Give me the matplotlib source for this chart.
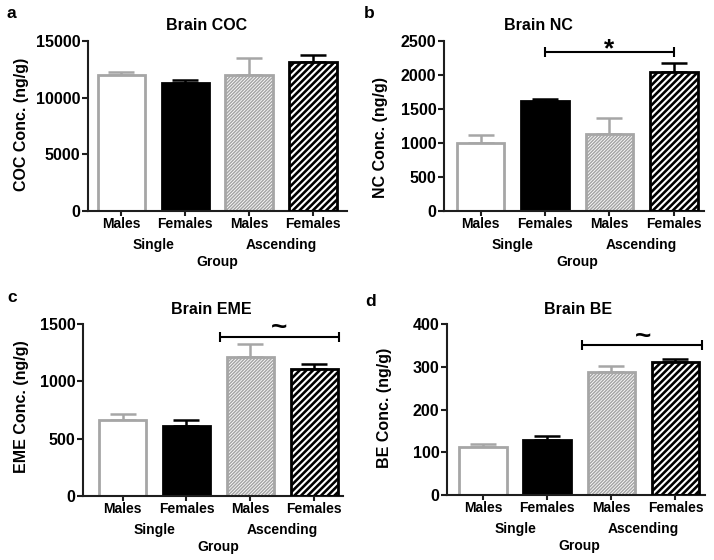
import matplotlib
matplotlib.use('Agg')
import matplotlib.pyplot as plt
import numpy as np

plt.rcParams['font.family'] = ['Liberation Sans', 'DejaVu Sans']
plt.rcParams['font.weight'] = 'bold'

# data (mean, upper SEM)
sexes = ['Males', 'Females', 'Males', 'Females']
groups = ['Single', 'Ascending']

coc_mean = [12000, 11270, 12000, 13120]
coc_sem = [240, 290, 1470, 640]
nc_mean = [1004, 1618, 1132, 2049]
nc_sem = [114, 29, 231, 123]
eme_mean = [663, 613, 1215, 1108]
eme_sem = [52, 50, 108, 43]
be_mean = [113, 129, 287, 312]
be_sem = [6, 10, 15, 6]

GRAY = '#a6a6a6'
DARK = '#1e1e1e'
W = 714.0
H = 560.0

fig = plt.figure(figsize=(7.14, 5.6), dpi=100)


def px_axes(left, top, right, bottom):
    return fig.add_axes([left / W, 1 - bottom / H, (right - left) / W, (bottom - top) / H])


def draw_bars(ax, mean, sem):
    x = np.arange(4)
    wd = 0.74
    # error bars (upper only)
    for i in range(4):
        c = GRAY if i in (0, 2) else 'black'
        ax.errorbar(x[i], mean[i], yerr=[[0], [sem[i]]], fmt='none', ecolor=c,
                    elinewidth=1.8, capsize=9.5, capthick=1.8, zorder=1)
    # single males: white with gray edge
    ax.bar(x[0], mean[0], wd, color='white', edgecolor=GRAY, linewidth=2.0, zorder=2)
    # single females: solid black
    ax.bar(x[1], mean[1], wd, color='black', edgecolor='black', linewidth=2.0, zorder=2)
    # ascending males: fine gray hatch
    with plt.rc_context({'hatch.linewidth': 1.1}):
        b = ax.bar(x[2], mean[2], wd, color='white', edgecolor=GRAY, hatch='/' * 10,
                   linewidth=2.0, zorder=2)
    for p in b:
        if hasattr(p, 'set_hatch_linewidth'):
            p.set_hatch_linewidth(1.1)
    # ascending females: black with white stripes
    with plt.rc_context({'hatch.linewidth': 1.5}):
        b = ax.bar(x[3], mean[3], wd, color='black', edgecolor='white', hatch='/' * 5,
                   linewidth=0, zorder=2)
    for p in b:
        if hasattr(p, 'set_hatch_linewidth'):
            p.set_hatch_linewidth(1.5)
    ax.bar(x[3], mean[3], wd, fill=False, edgecolor='black', linewidth=2.0, zorder=3)


def style(ax, xlim, ylim, yticks):
    ax.set_xlim(*xlim)
    ax.set_ylim(*ylim)
    ax.set_yticks(yticks)
    ax.set_xticks(np.arange(4))
    ax.set_xticklabels(sexes, fontsize=10, fontweight='bold')
    for s in ['top', 'right']:
        ax.spines[s].set_visible(False)
    for s in ['left', 'bottom']:
        ax.spines[s].set_linewidth(1.5)
        ax.spines[s].set_color(DARK)
    ax.tick_params(axis='y', length=4.5, width=1.5, color=DARK, pad=1, labelsize=11.5)
    ax.tick_params(axis='x', length=3.5, width=1.5, color=DARK, pad=0.5)
    for lab in ax.get_yticklabels():
        lab.set_fontweight('bold')
    tr = ax.get_xaxis_transform()
    ax.annotate(groups[0], xy=(0.5, 0), xycoords=tr, xytext=(0, -24.5),
                textcoords='offset points', ha='center', va='center', fontsize=10)
    ax.annotate(groups[1], xy=(2.5, 0), xycoords=tr, xytext=(0, -24.5),
                textcoords='offset points', ha='center', va='center', fontsize=10)
    ax.annotate('Group', xy=(1.5, 0), xycoords=tr, xytext=(0, -37),
                textcoords='offset points', ha='center', va='center', fontsize=10)


def sig(ax, x0, x1, y, label, ly, lx, size):
    ax.plot([x0, x1], [y, y], color='black', lw=1.5, marker='|', ms=7.5, mew=1.5,
            solid_capstyle='butt', clip_on=False, zorder=4)
    ax.text(lx, ly, label, ha='center', va='center', fontsize=size, fontweight='bold')


# a
ax_a = px_axes(88, 41, 347, 211)
draw_bars(ax_a, coc_mean, coc_sem)
style(ax_a, (-0.52, 3.53), (0, 15000), [0, 5000, 10000, 15000])

# b
ax_b = px_axes(444, 41, 704, 211)
draw_bars(ax_b, nc_mean, nc_sem)
style(ax_b, (-0.57, 3.47), (0, 2500), [0, 500, 1000, 1500, 2000, 2500])
sig(ax_b, 1, 3, 2343, '*', 2385, 2.0, 19)

# c
ax_c = px_axes(83, 324, 343, 496)
draw_bars(ax_c, eme_mean, eme_sem)
style(ax_c, (-0.62, 3.45), (0, 1500), [0, 500, 1000, 1500])
sig(ax_c, 1.52, 3.38, 1384, '~', 1462, 2.45, 20)

# d
ax_d = px_axes(447, 324, 705, 495)
draw_bars(ax_d, be_mean, be_sem)
style(ax_d, (-0.56, 3.46), (0, 400), [0, 100, 200, 300, 400])
sig(ax_d, 1.55, 3.41, 351, '~', 369.5, 2.5, 20)

# titles, y labels and panel letters placed in figure pixels
titles = ['Brain COC', 'Brain NC', 'Brain EME', 'Brain BE']
title_xy = [(206.5, 26), (538.7, 26), (211, 310), (577.8, 310)]
ylabels = ['COC Conc. (ng/g)', 'NC Conc. (ng/g)', 'EME Conc. (ng/g)', 'BE Conc. (ng/g)']
ylabel_xy = [(21.7, 124), (380, 137), (21.7, 407), (385, 408)]
letters = ['a', 'b', 'c', 'd']
letter_xy = [(11, 18), (369, 18), (12, 302), (371, 306)]

for t, (x, y) in zip(titles, title_xy):
    fig.text(x / W, 1 - y / H, t, ha='center', va='center', fontsize=11.5, fontweight='bold')
for t, (x, y) in zip(ylabels, ylabel_xy):
    fig.text(x / W, 1 - y / H, t, ha='center', va='center', rotation=90,
             fontsize=11.5, fontweight='bold')
for t, (x, y) in zip(letters, letter_xy):
    fig.text(x / W, 1 - y / H, t, ha='center', va='baseline', fontsize=12.5, fontweight='bold')

fig.savefig('out.png', dpi=100)
